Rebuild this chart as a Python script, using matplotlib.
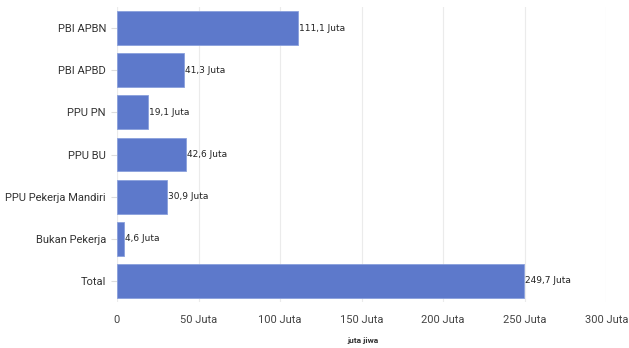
import matplotlib.pyplot as plt
import numpy as np

categories = ["PBI APBN", "PBI APBD", "PPU PN", "PPU BU",
              "PPU Pekerja Mandiri", "Bukan Pekerja", "Total"]
values = [111.1, 41.3, 19.1, 42.6, 30.9, 4.6, 249.7]
xticks = [0, 50, 100, 150, 200, 250, 300]
xtick_labels = ["0", "50 Juta", "100 Juta", "150 Juta", "200 Juta", "250 Juta", "300 Juta"]

plt.rcParams["font.family"] = ["Roboto", "DejaVu Sans"]

fig = plt.figure(figsize=(6.29, 3.48), dpi=100)
ax = fig.add_axes([0.186, 0.132, 0.778, 0.848])

y = np.arange(len(categories))
ax.barh(y, values, height=0.8, color="#5d79cb", edgecolor="#8aa0dc", linewidth=0.6, zorder=3)

for yi, v in zip(y, values):
    ax.text(v + 0.6, yi, f"{v:.1f}".replace(".", ",") + " Juta", va="center", ha="left",
            fontsize=6.5, family="DejaVu Sans", color="#222222", zorder=4)

ax.set_xlim(0, 300)
ax.set_ylim(len(categories) - 0.5, -0.5)
ax.set_yticks(y)
ax.set_yticklabels(categories, fontsize=8, color="#333333")
ax.set_xticks(xticks)
ax.set_xticklabels(xtick_labels, fontsize=8, color="#444444")
ax.tick_params(axis="y", length=4, color="#dddddd", pad=4)
ax.tick_params(axis="x", length=0, pad=9)
ax.grid(axis="x", color="#ebebeb", linewidth=0.8, zorder=0)
for s in ax.spines.values():
    s.set_visible(False)
ax.axvline(0, color="#dddddd", linewidth=0.8, zorder=1)

# axis title sits close to the bottom edge
fig.text(0.577, 0.012, "juta jiwa", fontsize=6, fontweight="bold", color="#333333",
         ha="center", va="bottom")

fig.savefig("out.png", dpi=100)
